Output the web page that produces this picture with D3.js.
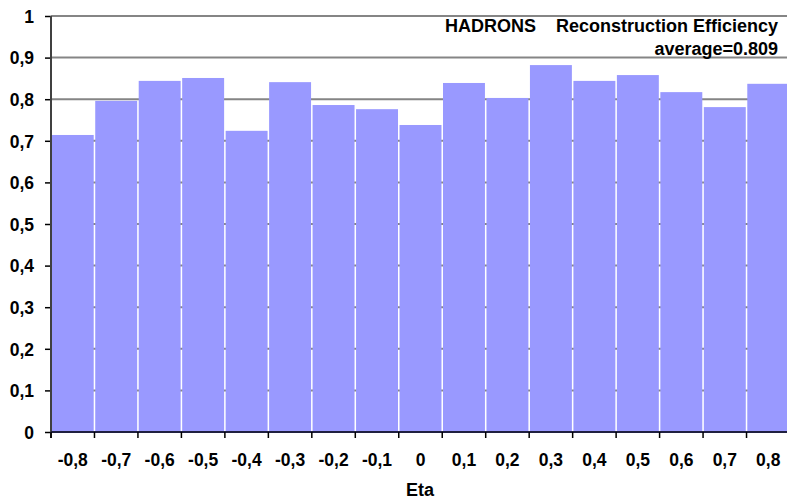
<!DOCTYPE html>
<html>
<head>
<meta charset="utf-8">
<script src="https://cdn.jsdelivr.net/npm/d3@7"></script>
<style>
  body { margin: 0; background: #fff; }
  svg { display: block; }
  svg text { font-family: "Liberation Sans", Arial, sans-serif; font-weight: bold; fill: #000; }
</style>
</head>
<body>
<div id="chart"></div>
<script>
// data
var etaLabels = ["-0,8", "-0,7", "-0,6", "-0,5", "-0,4", "-0,3", "-0,2", "-0,1", "0",
                 "0,1", "0,2", "0,3", "0,4", "0,5", "0,6", "0,7", "0,8"];
var efficiency = [0.714, 0.796, 0.844, 0.851, 0.724, 0.841, 0.786, 0.776, 0.738,
                  0.839, 0.803, 0.882, 0.844, 0.858, 0.817, 0.781, 0.837];
var yTicks = [0, 0.1, 0.2, 0.3, 0.4, 0.5, 0.6, 0.7, 0.8, 0.9, 1];
var titleLine1 = "HADRONS\u00a0\u00a0\u00a0\u00a0Reconstruction Efficiency";
var titleLine2 = "average=0.809";

var W = 787, H = 503;
var plot = {left: 51, right: 790, top: 16, bottom: 432};

var svg = d3.select("#chart").append("svg")
    .attr("width", W)
    .attr("height", H);

var x = d3.scaleBand()
    .domain(etaLabels)
    .range([plot.left, plot.right])
    .paddingInner(0.035)
    .paddingOuter(0.0175);

var y = d3.scaleLinear()
    .domain([0, 1])
    .range([plot.bottom, plot.top]);

var fmt = function (d) { return d === 0 || d === 1 ? String(d) : d3.format(".1f")(d).replace(".", ","); };

// gridlines (behind bars)
svg.append("g")
    .selectAll("line")
    .data(yTicks.filter(function (d) { return d > 0; }))
    .enter().append("line")
    .attr("x1", plot.left)
    .attr("x2", W)
    .attr("y1", function (d) { return y(d); })
    .attr("y2", function (d) { return y(d); })
    .attr("stroke", "#858585")
    .attr("stroke-width", 2);

// bars
svg.append("g")
    .selectAll("rect")
    .data(efficiency)
    .enter().append("rect")
    .attr("x", function (d, i) { return x(etaLabels[i]); })
    .attr("width", x.bandwidth())
    .attr("y", function (d) { return y(d); })
    .attr("height", function (d) { return y(0) - y(d); })
    .attr("fill", "#9999ff");

// y axis
var yAxis = svg.append("g")
    .attr("transform", "translate(" + plot.left + ",0)")
    .call(d3.axisLeft(y).tickValues(yTicks).tickFormat(fmt).tickSize(6).tickPadding(11));
yAxis.attr("font-size", null).attr("font-family", null);
yAxis.select(".domain").remove();
yAxis.selectAll("line").attr("stroke", "#000").attr("stroke-width", 1.5);
yAxis.selectAll("text")
    .attr("dy", "0.36em")
    .style("font-size", "17.5px");

svg.append("line")
    .attr("x1", plot.left).attr("x2", plot.left)
    .attr("y1", plot.top).attr("y2", plot.bottom + 6)
    .attr("stroke", "#404040").attr("stroke-width", 2);

// x axis: ticks at band boundaries, labels at band centres
var step = x.step();
svg.append("line")
    .attr("x1", plot.left).attr("x2", W)
    .attr("y1", plot.bottom).attr("y2", plot.bottom)
    .attr("stroke", "#202040").attr("stroke-width", 2);

svg.append("g")
    .selectAll("line")
    .data(etaLabels)
    .enter().append("line")
    .attr("x1", function (d, i) { return plot.left + i * step; })
    .attr("x2", function (d, i) { return plot.left + i * step; })
    .attr("y1", plot.bottom)
    .attr("y2", plot.bottom + 6)
    .attr("stroke", "#000")
    .attr("stroke-width", 1.5);

svg.append("g")
    .selectAll("text")
    .data(etaLabels)
    .enter().append("text")
    .attr("x", function (d) { return x(d) + x.bandwidth() / 2; })
    .attr("y", 466)
    .attr("text-anchor", "middle")
    .style("font-size", "17.5px")
    .text(function (d) { return d; });

// axis title
svg.append("text")
    .attr("x", 420)
    .attr("y", 496)
    .attr("text-anchor", "middle")
    .style("font-size", "18px")
    .text("Eta");

// chart title, top right
svg.append("text")
    .attr("x", 778)
    .attr("y", 32)
    .attr("text-anchor", "end")
    .style("font-size", "18px")
    .text(titleLine1);

svg.append("text")
    .attr("x", 778)
    .attr("y", 55)
    .attr("text-anchor", "end")
    .style("font-size", "18px")
    .text(titleLine2);
</script>
</body>
</html>
